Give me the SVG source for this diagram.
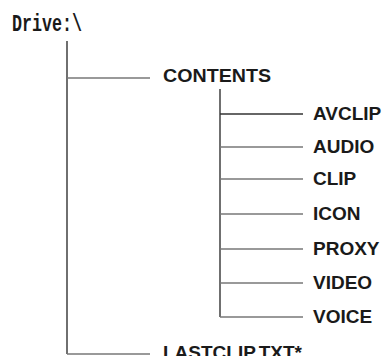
<svg xmlns="http://www.w3.org/2000/svg" width="388" height="356" viewBox="0 0 388 356">
<style>
.lbl{font-family:"Liberation Sans",Arial,sans-serif;font-weight:bold;font-size:19px;fill:#1a1a1a}
.drv{font-family:"Liberation Mono","DejaVu Sans Mono",monospace;font-weight:bold;font-size:23px;fill:#1a1a1a}
.v{stroke:#222;stroke-width:1.3;fill:none}
.h{stroke:#777;stroke-width:1.3;fill:none}
</style>
<rect width="388" height="356" fill="#fff"/>
<g id="connectors">
<line class="v" x1="67" y1="41" x2="67" y2="354"/>
<line class="h" x1="67" y1="78" x2="150" y2="78"/>
<line class="h" x1="67" y1="354" x2="150" y2="354"/>
<line class="v" x1="220" y1="89" x2="220" y2="317"/>
<line class="v" x1="220" y1="114" x2="303" y2="114" style="stroke:#333"/>
<line class="h" x1="220" y1="147" x2="303" y2="147"/>
<line class="h" x1="220" y1="179" x2="303" y2="179"/>
<line class="h" x1="220" y1="214" x2="303" y2="214"/>
<line class="h" x1="220" y1="249" x2="303" y2="249"/>
<line class="h" x1="220" y1="283" x2="303" y2="283"/>
<line class="h" x1="220" y1="317" x2="303" y2="317"/>
</g>
<g id="drive"><text class="drv" x="12" y="31" textLength="70" lengthAdjust="spacingAndGlyphs">Drive:\</text></g>
<g id="contents"><text class="lbl" x="163" y="82" textLength="108" lengthAdjust="spacingAndGlyphs">CONTENTS</text></g>
<g id="avclip"><text class="lbl" x="313" y="120">AVCLIP</text></g>
<g id="audio"><text class="lbl" x="313" y="153">AUDIO</text></g>
<g id="clip"><text class="lbl" x="313" y="185">CLIP</text></g>
<g id="icon"><text class="lbl" x="313" y="220">ICON</text></g>
<g id="proxy"><text class="lbl" x="313" y="255">PROXY</text></g>
<g id="video"><text class="lbl" x="313" y="289">VIDEO</text></g>
<g id="voice"><text class="lbl" x="313" y="323">VOICE</text></g>
<g id="lastclip"><text class="lbl" x="163" y="359">LASTCLIP.TXT*</text></g>
</svg>
